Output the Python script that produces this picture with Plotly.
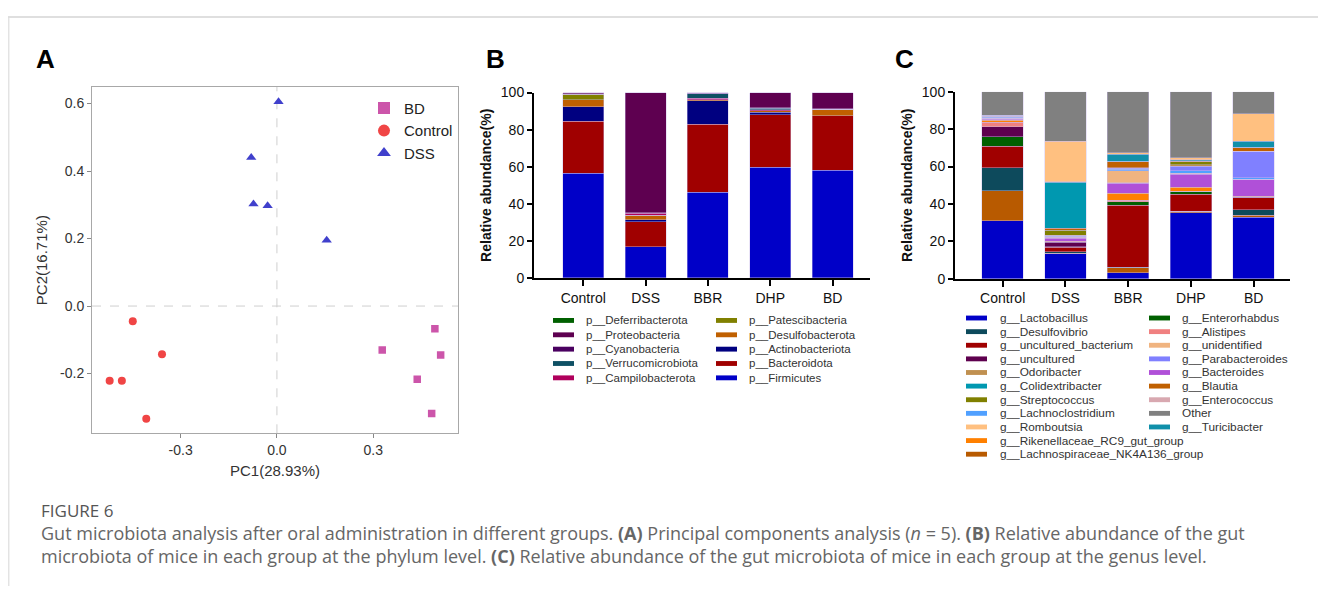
import plotly.graph_objects as go

# page is 1326x602; the browser's default body margin (8px) surrounds the figure
PAGE_OFF = 8
W, H = 1326 - 2 * PAGE_OFF, 602 - 2 * PAGE_OFF

# ---------------- Panel A : PCA scores ----------------
BD_PC1 = [0.492, 0.328, 0.510, 0.437, 0.482]
BD_PC2 = [-0.067, -0.130, -0.145, -0.217, -0.318]
CONTROL_PC1 = [-0.449, -0.358, -0.521, -0.483, -0.407]
CONTROL_PC2 = [-0.045, -0.143, -0.221, -0.221, -0.334]
DSS_PC1 = [0.005, -0.080, -0.073, -0.029, 0.155]
DSS_PC2 = [0.605, 0.440, 0.302, 0.297, 0.195]
PCA_X_TICKVALS = [-0.3, 0.0, 0.3]
PCA_X_TICKTEXT = ["-0.3", "0.0", "0.3"]
PCA_Y_TICKVALS = [-0.2, 0.0, 0.2, 0.4, 0.6]
PCA_Y_TICKTEXT = ["-0.2", "0.0", "0.2", "0.4", "0.6"]

# ---------------- Panels B / C : groups ----------------
GROUPS = ["Control", "DSS", "BBR", "DHP", "BD"]
PCT_TICKVALS = [0, 20, 40, 60, 80, 100]

# Phylum level (stack order bottom -> top)
PHYLA = ["p__Firmicutes", "p__Bacteroidota", "p__Actinobacteriota", "p__Desulfobacterota",
         "p__Patescibacteria", "p__Campilobacterota", "p__Verrucomicrobiota",
         "p__Cyanobacteria", "p__Proteobacteria", "p__Deferribacterota"]
PHYLUM_CONTROL = [56.6, 28.0, 7.7, 3.9, 2.8, 0.1, 0.2, 0.1, 0.4, 0.2]
PHYLUM_DSS = [16.8, 13.6, 0.9, 2.4, 0.2, 1.1, 0.1, 0.1, 64.7, 0.1]
PHYLUM_BBR = [46.2, 36.7, 12.7, 0.5, 0.1, 0.7, 2.5, 0.2, 0.3, 0.1]
PHYLUM_DHP = [59.8, 28.3, 1.2, 0.9, 0.1, 0.5, 0.7, 0.2, 8.1, 0.2]
PHYLUM_BD = [58.0, 29.4, 0.2, 3.2, 0.1, 0.1, 0.1, 0.1, 8.7, 0.1]
PHYLUM_LEGEND_LEFT = ["p__Deferribacterota", "p__Proteobacteria", "p__Cyanobacteria",
                      "p__Verrucomicrobiota", "p__Campilobacterota"]
PHYLUM_LEGEND_RIGHT = ["p__Patescibacteria", "p__Desulfobacterota", "p__Actinobacteriota",
                       "p__Bacteroidota", "p__Firmicutes"]

# Genus level (stack order bottom -> top)
GENERA = ["g__Lactobacillus", "g__Lachnospiraceae_NK4A136_group", "g__Desulfovibrio",
          "g__uncultured_bacterium", "g__Enterorhabdus", "g__uncultured", "g__Alistipes",
          "g__Rikenellaceae_RC9_gut_group", "g__Bacteroides", "g__Enterococcus",
          "g__unidentified", "g__Lachnoclostridium", "g__Parabacteroides", "g__Odoribacter",
          "g__Streptococcus", "g__Blautia", "g__Colidextribacter", "g__Turicibacter",
          "g__Romboutsia", "Other"]
GENUS_CONTROL = [31.0, 16.0, 12.5, 11.3, 5.2, 5.2, 2.5, 1.0, 0.7, 0.4,
                 0.2, 0.5, 0.2, 0.1, 0.1, 0.1, 0.2, 0.3, 0.1, 12.4]
GENUS_DSS = [13.3, 0.2, 0.8, 2.6, 0.3, 2.4, 0.2, 0.1, 1.6, 0.6,
             0.2, 0.3, 0.4, 0.1, 2.8, 1.0, 24.8, 0.2, 21.6, 26.5]
GENUS_BBR = [3.1, 2.8, 0.2, 33.1, 2.0, 0.1, 0.8, 3.5, 5.5, 0.3,
             6.4, 0.7, 0.6, 0.2, 0.1, 3.2, 0.2, 3.8, 0.8, 32.6]
GENUS_DHP = [35.4, 0.6, 0.1, 9.0, 1.4, 0.1, 0.2, 2.1, 6.9, 0.4,
             0.3, 1.3, 2.5, 0.6, 1.6, 0.3, 0.3, 0.5, 1.0, 35.4]
GENUS_BD = [32.8, 1.2, 2.8, 6.4, 0.2, 0.1, 0.4, 0.2, 9.0, 0.1,
            0.1, 0.7, 14.1, 0.1, 0.1, 1.9, 0.2, 3.2, 14.7, 11.7]
GENUS_LEGEND_LEFT = ["g__Lactobacillus", "g__Desulfovibrio", "g__uncultured_bacterium",
                     "g__uncultured", "g__Odoribacter", "g__Colidextribacter",
                     "g__Streptococcus", "g__Lachnoclostridium", "g__Romboutsia",
                     "g__Rikenellaceae_RC9_gut_group", "g__Lachnospiraceae_NK4A136_group"]
GENUS_LEGEND_RIGHT = ["g__Enterorhabdus", "g__Alistipes", "g__unidentified",
                      "g__Parabacteroides", "g__Bacteroides", "g__Blautia",
                      "g__Enterococcus", "Other", "g__Turicibacter"]

CAPTION_TITLE = "FIGURE 6"
CAPTION_LINE1 = ("Gut microbiota analysis after oral administration in different groups. "
                 "<b>(A)</b> Principal components analysis (<i>n</i> = 5). "
                 "<b>(B)</b> Relative abundance of the gut")
CAPTION_LINE2 = ("microbiota of mice in each group at the phylum level. "
                 "<b>(C)</b> Relative abundance of the gut microbiota of mice in each group at the genus level.")

# ---------------- styles ----------------
FONT = "Arial, Liberation Sans, sans-serif"
CAP_FONT = "Open Sans, Lato, sans-serif"
PHYLUM_COLORS = ["#0000C8", "#A00000", "#000080", "#C06000", "#808000",
                 "#B0005C", "#0E5064", "#4A0060", "#5E0050", "#006000"]
GENUS_COLORS = ["#0000C8", "#B85A00", "#0D4A5C", "#A00000", "#006000", "#5E004E",
                "#F08080", "#FF8000", "#B050D8", "#D8A8B0", "#F0B480", "#50A0FF",
                "#8080FF", "#C09050", "#808000", "#C06000", "#0098B0", "#1090AA",
                "#FFC080", "#808080"]
PCA_STYLE = {"BD": ("#CC55AA", "square", 7.5), "Control": ("#F04545", "circle", 8),
             "DSS": ("#4040CC", "triangle-up", 9)}


def px(x):
    """page pixel x -> paper coordinate"""
    return (x - PAGE_OFF) / W


def py(y):
    """page pixel y -> paper coordinate"""
    return 1 - (y - PAGE_OFF) / H


fig = go.Figure()

# ---- Panel A ----
for name, xs, ys in [("BD", BD_PC1, BD_PC2), ("Control", CONTROL_PC1, CONTROL_PC2),
                     ("DSS", DSS_PC1, DSS_PC2)]:
    col, sym, size = PCA_STYLE[name]
    fig.add_trace(go.Scatter(x=xs, y=ys, mode="markers", name=name,
                             marker=dict(color=col, symbol=sym, size=size, line_width=0),
                             xaxis="x", yaxis="y", legend="legend"))

# ---- Panel B ----
phylum_groups = [PHYLUM_CONTROL, PHYLUM_DSS, PHYLUM_BBR, PHYLUM_DHP, PHYLUM_BD]
for i, name in enumerate(PHYLA):
    fig.add_trace(go.Bar(x=GROUPS, y=[g[i] for g in phylum_groups], name=name,
                         marker=dict(color=PHYLUM_COLORS[i],
                                     line=dict(color="rgba(205,190,235,0.7)", width=0.6)),
                         width=0.66, xaxis="x2", yaxis="y2", showlegend=False))

# ---- Panel C ----
genus_groups = [GENUS_CONTROL, GENUS_DSS, GENUS_BBR, GENUS_DHP, GENUS_BD]
for i, name in enumerate(GENERA):
    fig.add_trace(go.Bar(x=GROUPS, y=[g[i] for g in genus_groups], name=name,
                         marker=dict(color=GENUS_COLORS[i],
                                     line=dict(color="rgba(205,190,235,0.7)", width=0.6)),
                         width=0.66, xaxis="x3", yaxis="y3", showlegend=False))

pca_axis = dict(showline=True, mirror=True, linecolor="#A8A8A8", linewidth=1,
                ticks="outside", ticklen=4, tickcolor="#888888", showgrid=False,
                zeroline=False, tickfont=dict(size=14, color="#333333", family=FONT))
bar_x = dict(showline=True, linecolor="black", linewidth=2, ticks="outside", ticklen=6,
             tickwidth=2, tickcolor="black", showgrid=False, zeroline=False,
             tickfont=dict(size=14, color="#111111", family=FONT))
bar_y = dict(showline=True, linecolor="black", linewidth=2, ticks="outside", ticklen=5,
             tickwidth=2, tickcolor="black", showgrid=False, zeroline=False,
             range=[0, 100], tickvals=PCT_TICKVALS,
             tickfont=dict(size=14, color="#111111", family=FONT))

fig.update_layout(
    width=W, height=H, autosize=False, margin=dict(l=0, r=0, t=0, b=0),
    paper_bgcolor="white", plot_bgcolor="white", barmode="stack", bargap=0.34,
    font=dict(family=FONT, color="#222222"),
    xaxis=dict(pca_axis, domain=[px(92), px(458)], range=[-0.576, 0.564],
               tickvals=PCA_X_TICKVALS, ticktext=PCA_X_TICKTEXT, anchor="y",
               title=dict(text="PC1(28.93%)", standoff=8,
                          font=dict(size=15, color="#333333", family=FONT))),
    yaxis=dict(pca_axis, domain=[py(437), py(81)], range=[-0.377, 0.649],
               tickvals=PCA_Y_TICKVALS, ticktext=PCA_Y_TICKTEXT, anchor="x",
               title=dict(text="PC2(16.71%)", standoff=8,
                          font=dict(size=15, color="#333333", family=FONT))),
    xaxis2=dict(bar_x, domain=[px(534), px(870)], range=[-0.79, 4.6], anchor="y2"),
    yaxis2=dict(bar_y, domain=[py(277.3), py(86.7)], anchor="x2",
                title=dict(text="<b>Relative abundance(%)</b>", standoff=6,
                           font=dict(size=14, color="#111111", family=FONT))),
    xaxis3=dict(bar_x, domain=[px(955), px(1290)], range=[-0.76, 4.58], anchor="y3"),
    yaxis3=dict(bar_y, domain=[py(278), py(86)], anchor="x3",
                title=dict(text="<b>Relative abundance(%)</b>", standoff=6,
                           font=dict(size=14, color="#111111", family=FONT))),
    legend=dict(x=px(364), y=py(86), xanchor="left", yanchor="top", traceorder="normal",
                font=dict(size=15, color="#222222", family=FONT),
                bgcolor="rgba(0,0,0,0)", itemsizing="constant", tracegroupgap=0),
    showlegend=True,
)

# zero reference lines in panel A
fig.add_shape(type="line", xref="x", yref="y domain", x0=0, x1=0, y0=0, y1=1,
              line=dict(color="#CFCFCF", width=1, dash="dash"), layer="below")
fig.add_shape(type="line", xref="x domain", yref="y", x0=0, x1=1, y0=0, y1=0,
              line=dict(color="#CFCFCF", width=1, dash="dash"), layer="below")

# figure frame (top and left rules)
fig.add_shape(type="line", xref="paper", yref="paper", x0=0, x1=1, y0=py(9), y1=py(9),
              line=dict(color="#D4D4D4", width=1.5))
fig.add_shape(type="line", xref="paper", yref="paper", x0=0.0006, x1=0.0006, y0=py(9), y1=0,
              line=dict(color="#DDDDDD", width=1.2))

# panel letters
for letter, x, y in [("A", 45, 52), ("B", 495, 52), ("C", 904, 52)]:
    fig.add_annotation(text="<b>%s</b>" % letter, x=px(x), y=py(y), xref="paper",
                       yref="paper", showarrow=False, xanchor="center", yanchor="middle",
                       font=dict(size=26, color="black", family=FONT))


def legend_column(names, all_names, colors, x_sw, x_txt, y0, dy, size):
    for k, name in enumerate(names):
        y = y0 + k * dy
        col = colors[all_names.index(name)]
        fig.add_shape(type="rect", xref="paper", yref="paper", x0=px(x_sw), x1=px(x_sw + 21),
                      y0=py(y + 2.5), y1=py(y - 2.5), fillcolor=col, line_width=0)
        fig.add_annotation(text=name, x=px(x_txt), y=py(y), xref="paper", yref="paper",
                           showarrow=False, xanchor="left", yanchor="middle",
                           font=dict(size=size, color="#333333", family=FONT))


legend_column(PHYLUM_LEGEND_LEFT, PHYLA, PHYLUM_COLORS, 553, 584, 321, 14.75, 11.5)
legend_column(PHYLUM_LEGEND_RIGHT, PHYLA, PHYLUM_COLORS, 716, 747, 321, 14.75, 11.5)
legend_column(GENUS_LEGEND_LEFT, GENERA, GENUS_COLORS, 966, 998, 318.5, 14.0, 11.8)
legend_column(GENUS_LEGEND_RIGHT, GENERA, GENUS_COLORS, 1149, 1180, 318.5, 14.0, 11.8)

# caption
fig.add_annotation(text=CAPTION_TITLE, x=px(39), y=py(516), xref="paper", yref="paper",
                   showarrow=False, xanchor="left", yanchor="middle",
                   font=dict(size=17, color="#555555", family=CAP_FONT))
for txt, y in [(CAPTION_LINE1, 540), (CAPTION_LINE2, 563)]:
    fig.add_annotation(text=txt, x=px(39), y=py(y), xref="paper", yref="paper",
                       showarrow=False, xanchor="left", yanchor="middle",
                       font=dict(size=18, color="#666666", family=CAP_FONT))

fig.write_html("out.html", config={"displayModeBar": False})
